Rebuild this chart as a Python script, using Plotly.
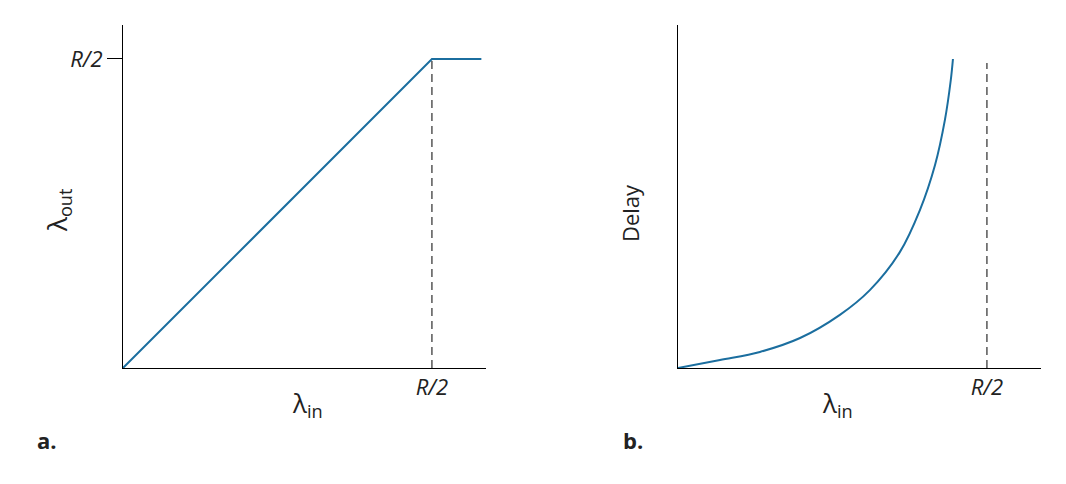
import plotly.graph_objects as go

# panel a: throughput vs offered load (units of R/2)
thru_x = [0, 1.0, 1.16]
thru_y = [0, 1.0, 1.0]
# panel b: delay curve
delay_x = [0, 0.136, 0.265, 0.395, 0.524, 0.621, 0.718, 0.783, 0.832, 0.864, 0.883, 0.890]
delay_y = [0, 0.026, 0.052, 0.097, 0.172, 0.252, 0.375, 0.511, 0.657, 0.803, 0.932, 1.0]
tick_label = '<i>R/2</i>'

blue = '#1b6e9f'
fig = go.Figure()
fig.add_trace(go.Scatter(x=thru_x, y=thru_y, mode='lines', line=dict(color=blue, width=2),
                         xaxis='x', yaxis='y'))
fig.add_trace(go.Scatter(x=[1, 1], y=[0, 1], mode='lines', line=dict(color='black', width=1, dash='8px,5px'),
                         xaxis='x', yaxis='y'))
fig.add_trace(go.Scatter(x=delay_x, y=delay_y, mode='lines', line=dict(color=blue, width=2, shape='spline'),
                         xaxis='x2', yaxis='y2'))
fig.add_trace(go.Scatter(x=[1, 1], y=[0, 0.987], mode='lines', line=dict(color='black', width=1, dash='8px,5px'),
                         xaxis='x2', yaxis='y2'))

ax = dict(showgrid=False, zeroline=False, showline=True, linecolor='black', linewidth=1,
          range=[0, 1.175], tickfont=dict(size=22, color='#222'))
ay = dict(showgrid=False, zeroline=False, showline=True, linecolor='black', linewidth=1,
          range=[0, 1.11], tickfont=dict(size=22, color='#222'))

W, H = 1066, 484
off = 8  # page body margin


def px_x(p):
    return (p - off) / W


def px_y(p):
    return 1 - (p - off) / H


fig.update_layout(
    width=W, height=H,
    margin=dict(l=0, r=0, t=0, b=0),
    paper_bgcolor='white', plot_bgcolor='white',
    showlegend=False,
    font=dict(family='Open Sans', color='#222'),
    xaxis=dict(ax, domain=[px_x(123), px_x(486)], tickvals=[1], ticktext=[tick_label], ticks=''),
    yaxis=dict(ay, domain=[px_y(368), px_y(25)], tickvals=[1], ticktext=[tick_label],
               ticks='outside', ticklen=15, tickcolor='black'),
    xaxis2=dict(ax, domain=[px_x(678), px_x(1041)], tickvals=[1], ticktext=[tick_label], ticks='', anchor='y2'),
    yaxis2=dict(ay, domain=[px_y(368), px_y(25)], showticklabels=False, ticks='', anchor='x2'),
)

ann = [
    dict(x=px_x(37), y=px_y(210), text='λ<sub>out</sub>', textangle=-90, size=26),
    dict(x=px_x(290), y=px_y(425), text='λ<sub>in</sub>', size=26),
    dict(x=px_x(855), y=px_y(425), text='λ<sub>in</sub>', size=26),
    dict(x=px_x(630), y=px_y(213), text='Delay', textangle=-90, size=22),
    dict(x=px_x(35), y=px_y(457), text='<b>a.</b>', size=22),
    dict(x=px_x(633), y=px_y(457), text='<b>b.</b>', size=22),
]
for a in ann:
    s = a.pop('size')
    fig.add_annotation(xref='paper', yref='paper', showarrow=False, font=dict(size=s, color='#222'), **a)

fig.write_html('out.html')
